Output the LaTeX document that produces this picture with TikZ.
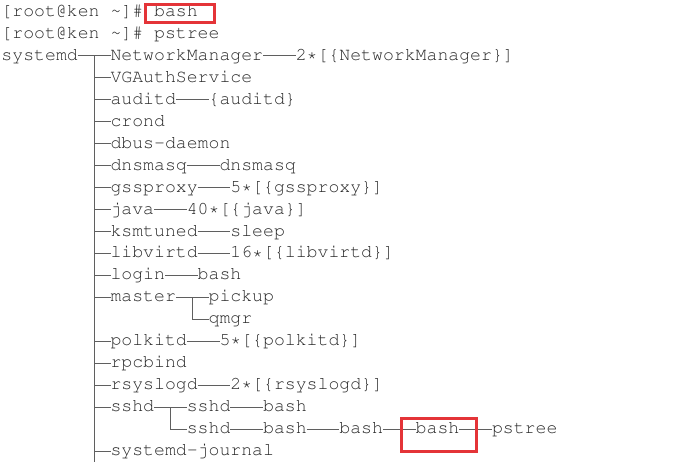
\documentclass[tikz,border=0pt]{standalone}
\usepackage[T1]{fontenc}
\usepackage{courier}
\definecolor{boxred}{RGB}{228,52,56}
\definecolor{txtc}{RGB}{40,40,40}
\definecolor{linec}{RGB}{95,95,95}
\newcommand\T[4]{\node[txt] (#1) at ({1.5+#3*10.9},{-(16.5+(#2-1)*21.95)}) {#4};}
\newcommand\C[2]{\draw[tl] ([yshift=4.5pt]#1.base east) -- ([yshift=4.5pt]#2.base west);}
\newcommand\B[1]{\draw[tl] ([yshift=4.5pt]#1.base west) -- ++(-16.35pt,0);}
\begin{document}
\begin{tikzpicture}[x=1pt,y=1pt,
  txt/.style={anchor=base west,inner sep=0pt,outer sep=0pt,text=txtc,
    font=\fontsize{18.17pt}{22pt}\selectfont\ttfamily},
  tl/.style={draw=linec,line width=1pt},
  redbox/.style={draw=boxred,line width=3pt}]
\useasboundingbox[fill=white] (0,0) rectangle (692,-473);
% prompt lines
\T{p1}{1}{0}{[root@ken \textasciitilde]\#}
\T{bash0}{1}{14}{bash}
\T{p2}{2}{0}{[root@ken \textasciitilde]\# pstree}
% tree
\T{systemd}{3}{0}{systemd}
\T{nm}{3}{10}{NetworkManager}
\T{nmt}{3}{27}{2*[\{NetworkManager\}]}
\T{vga}{4}{10}{VGAuthService}
\T{auditd}{5}{10}{auditd}
\T{auditdt}{5}{19}{\{auditd\}}
\T{crond}{6}{10}{crond}
\T{dbus}{7}{10}{dbus-daemon}
\T{dnsmasq}{8}{10}{dnsmasq}
\T{dnsmasqc}{8}{20}{dnsmasq}
\T{gss}{9}{10}{gssproxy}
\T{gsst}{9}{21}{5*[\{gssproxy\}]}
\T{java}{10}{10}{java}
\T{javat}{10}{17}{40*[\{java\}]}
\T{ksm}{11}{10}{ksmtuned}
\T{sleep}{11}{21}{sleep}
\T{libvirtd}{12}{10}{libvirtd}
\T{libvirtdt}{12}{21}{16*[\{libvirtd\}]}
\T{login}{13}{10}{login}
\T{loginb}{13}{18}{bash}
\T{master}{14}{10}{master}
\T{pickup}{14}{19}{pickup}
\T{qmgr}{15}{19}{qmgr}
\T{polkitd}{16}{10}{polkitd}
\T{polkitdt}{16}{20}{5*[\{polkitd\}]}
\T{rpcbind}{17}{10}{rpcbind}
\T{rsyslogd}{18}{10}{rsyslogd}
\T{rsyslogdt}{18}{21}{2*[\{rsyslogd\}]}
\T{sshd}{19}{10}{sshd}
\T{sshda}{19}{17}{sshd}
\T{basha}{19}{24}{bash}
\T{sshdb}{20}{17}{sshd}
\T{bashb}{20}{24}{bash}
\T{bashc}{20}{31}{bash}
\T{bashd}{20}{38}{bash}
\T{pstree}{20}{45}{pstree}
\T{journal}{21}{10}{systemd-journal}
% connectors
\C{systemd}{nm}
\C{nm}{nmt}
\C{auditd}{auditdt}
\C{dnsmasq}{dnsmasqc}
\C{gss}{gsst}
\C{java}{javat}
\C{ksm}{sleep}
\C{libvirtd}{libvirtdt}
\C{login}{loginb}
\C{master}{pickup}
\C{polkitd}{polkitdt}
\C{rsyslogd}{rsyslogdt}
\C{sshd}{sshda}
\C{sshda}{basha}
\C{sshdb}{bashb}
\C{bashb}{bashc}
\C{bashc}{bashd}
\C{bashd}{pstree}
% trunk
\coordinate (trunktop) at ([xshift=16.35pt,yshift=4.5pt]systemd.base east);
\coordinate (trunkend) at ([yshift=-406pt]trunktop);
\draw[tl] (trunktop) -- (trunkend);
\B{vga}\B{auditd}\B{crond}\B{dbus}\B{dnsmasq}\B{gss}\B{java}\B{ksm}
\B{libvirtd}\B{login}\B{master}\B{polkitd}\B{rpcbind}\B{rsyslogd}\B{sshd}\B{journal}
% sub-branches
\draw[tl] ([xshift=16.35pt,yshift=4.5pt]master.base east) |- ([yshift=4.5pt]qmgr.base west);
\draw[tl] ([xshift=16.35pt,yshift=4.5pt]sshd.base east) |- ([yshift=4.5pt]sshdb.base west);
% highlight boxes
\draw[redbox] ([xshift=-8.4pt,yshift=12pt]bash0.base west) rectangle ([xshift=17pt,yshift=-6.5pt]bash0.base east);
\draw[redbox] ([xshift=-14.7pt,yshift=14.7pt]bashd.base west) rectangle ([xshift=16.9pt,yshift=-17.6pt]bashd.base east);
\end{tikzpicture}
\end{document}
